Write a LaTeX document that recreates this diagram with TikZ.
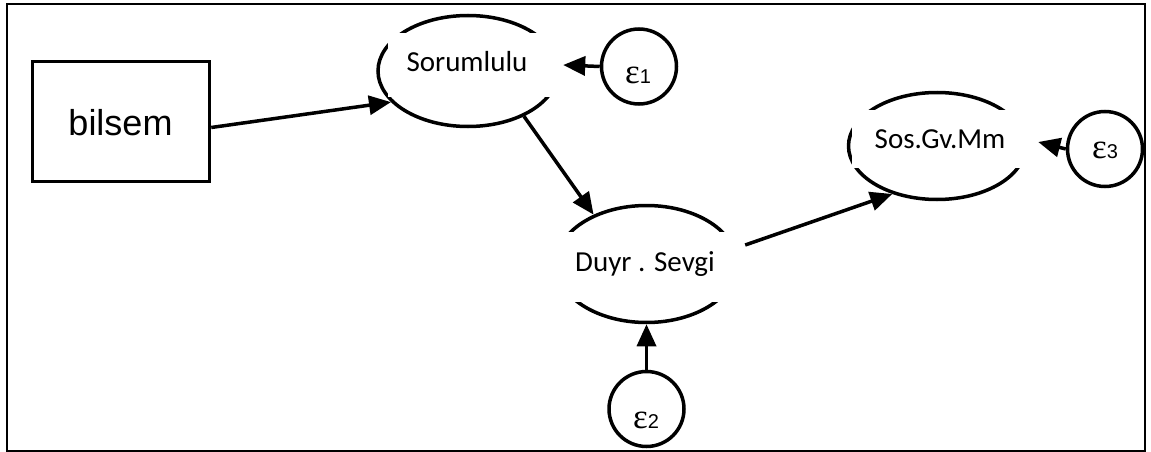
\documentclass[tikz,border=0pt]{standalone}
\usepackage{fontspec}
\setmainfont{Carlito}
\newfontfamily\arialfont{Liberation Sans}
\newfontfamily\greekfont{Liberation Serif}
\usetikzlibrary{shapes.geometric,arrows.meta}

\begin{document}
\begin{tikzpicture}[x=1pt,y=-1pt,
  latent/.style={draw, ellipse, line width=3.5pt, inner sep=0pt},
  labelbox/.style={fill=white, inner sep=0pt},
  errnode/.style={draw, circle, line width=3.5pt, inner sep=0pt, minimum size=75pt},
  link/.style={-{Triangle[length=22pt,width=19pt]}, line width=3.5pt},
  lbl/.style={font=\fontsize{29}{34}\selectfont, inner sep=0pt, anchor=base},
  errlbl/.style={inner sep=0pt, anchor=base}]

  \useasboundingbox (0,0) rectangle (1151,452);

  % outer frame
  \node[draw, line width=2pt, minimum width=1138pt, minimum height=447pt, inner sep=0pt]
    (frame) at (576,227.5) {};

  % observed variable
  \node[draw, line width=3.5pt, minimum width=177pt, minimum height=120pt, inner sep=0pt]
    (bil) at (121,121.5) {};
  \node[errlbl, font=\arialfont\fontsize{36}{40}\selectfont] (bilt) at (120.5,135) {bilsem};

  % latent variables: outline, white label box, text
  \node[latent, minimum width=180pt, minimum height=111pt] (soe) at (468,71) {};
  \node[labelbox, minimum width=175pt, minimum height=64pt] (sob) at (475.5,65) {};
  \node[lbl] (sot) at (467,72) {Sorumlulu};

  \node[latent, minimum width=181pt, minimum height=117pt] (due) at (646.5,264) {};
  \node[labelbox, minimum width=200pt, minimum height=70pt] (dub) at (645,267) {};
  \node[lbl] (dut) at (645,271) {Duyr . Sevgi};

  \node[latent, minimum width=177pt, minimum height=107pt] (sose) at (937,146) {};
  \node[labelbox, minimum width=178pt, minimum height=58pt] (sosb) at (941,139) {};
  \node[lbl] (sost) at (940,148) {Sos.Gv.Mm};

  % error terms
  \node[errnode] (e1) at (639,66.5) {};
  \node[errlbl] (e1t) at (638,84)
    {{\greekfont\fontsize{35}{35}\selectfont ε}{\arialfont\fontsize{20}{20}\selectfont 1}};
  \node[errnode] (e2) at (646.5,409) {};
  \node[errlbl] (e2t) at (646,428)
    {{\greekfont\fontsize{35}{35}\selectfont ε}{\arialfont\fontsize{20}{20}\selectfont 2}};
  \node[errnode] (e3) at (1105,149) {};
  \node[errlbl] (e3t) at (1105,158)
    {{\greekfont\fontsize{35}{35}\selectfont ε}{\arialfont\fontsize{20}{20}\selectfont 3}};

  % paths
  \draw[link] ([yshift=-6pt]bil.east) -- (soe.202);
  \draw[link] (soe.-39) -- (due.137);
  \draw[link] ([yshift=22pt]dub.east) -- (sose.227);
  \draw[link] (e1.west) -- (sob.east);
  \draw[link] (e2.north) -- (due.south);
  \draw[link] (e3.west) -- ([xshift=11pt,yshift=4pt]sose.east);
\end{tikzpicture}
\end{document}
